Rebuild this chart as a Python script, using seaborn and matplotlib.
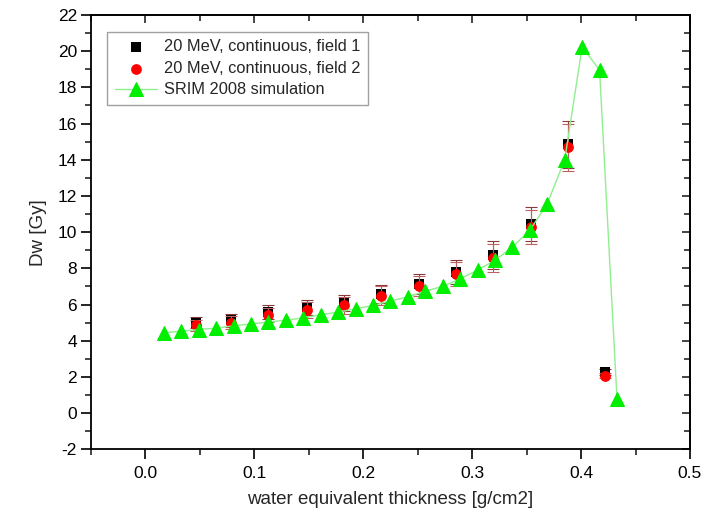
import matplotlib
matplotlib.use("Agg")
import matplotlib.pyplot as plt
import seaborn as sns
import pandas as pd
from matplotlib.ticker import MultipleLocator

# SRIM 2008 simulation
srim_x = [0.017, 0.033, 0.049, 0.065, 0.081, 0.097, 0.113, 0.129, 0.145, 0.161,
          0.177, 0.193, 0.209, 0.225, 0.241, 0.257, 0.273, 0.289, 0.305, 0.321,
          0.337, 0.353, 0.369, 0.385, 0.401, 0.417, 0.433]
srim_y = [4.45, 4.52, 4.62, 4.70, 4.82, 4.93, 5.03, 5.14, 5.26, 5.44,
          5.58, 5.77, 5.95, 6.20, 6.42, 6.74, 7.01, 7.42, 7.90, 8.45,
          9.18, 10.10, 11.58, 14.00, 20.25, 18.95, 0.78]

# measurements
meas_x = [0.046, 0.079, 0.113, 0.148, 0.182, 0.216, 0.251, 0.285, 0.319, 0.354, 0.388, 0.422]
field1_y = [5.00, 5.12, 5.58, 5.85, 6.10, 6.60, 7.15, 7.80, 8.72, 10.45, 14.85, 2.27]
field2_y = [4.85, 5.00, 5.42, 5.70, 5.95, 6.50, 7.02, 7.68, 8.58, 10.30, 14.70, 2.07]
err1 = [0.32, 0.35, 0.38, 0.42, 0.45, 0.50, 0.55, 0.68, 0.78, 0.95, 1.30, 0.15]
err2 = [0.32, 0.35, 0.38, 0.42, 0.45, 0.50, 0.55, 0.68, 0.78, 0.95, 1.30, 0.15]

x_ticks = [0.0, 0.1, 0.2, 0.3, 0.4, 0.5]
x_ticklabels = ["0.0", "0.1", "0.2", "0.3", "0.4", "0.5"]
y_ticks = list(range(-2, 23, 2))

sns.set_style("ticks")
plt.rcParams['font.family'] = ['Liberation Sans', 'DejaVu Sans']

fig = plt.figure(figsize=(7.13, 5.18), dpi=100)
ax = fig.add_axes([0.1276, 0.1326, 0.8401, 0.8384])

df1 = pd.DataFrame({"x": meas_x, "y": field1_y})
df2 = pd.DataFrame({"x": meas_x, "y": field2_y})
dfs = pd.DataFrame({"x": srim_x, "y": srim_y})

ax.errorbar(meas_x, field1_y, yerr=err1, fmt='none', ecolor='#8a3a3a',
            elinewidth=0.8, capsize=4, capthick=0.8, zorder=2)
sns.scatterplot(data=df1, x="x", y="y", marker='s', color='black', s=45,
                edgecolor='black', linewidth=0, ax=ax, zorder=3,
                label="20 MeV, continuous, field 1")
ax.errorbar(meas_x, field2_y, yerr=err2, fmt='none', ecolor='#c06060',
            elinewidth=0.8, capsize=4, capthick=0.8, zorder=3.5)
sns.scatterplot(data=df2, x="x", y="y", marker='o', color='#ff0000', s=60,
                edgecolor='#ff0000', linewidth=0, ax=ax, zorder=4,
                label="20 MeV, continuous, field 2")
sns.lineplot(data=dfs, x="x", y="y", color='#90ee90', linewidth=1.0,
             marker='^', markersize=10, markerfacecolor='#00ee00',
             markeredgecolor='#00ee00', ax=ax, zorder=5,
             label="SRIM 2008 simulation", sort=False)

ax.set_xlim(-0.05, 0.5)
ax.set_ylim(-2, 22)
ax.set_xticks(x_ticks)
ax.set_xticklabels(x_ticklabels)
ax.xaxis.set_minor_locator(MultipleLocator(0.05))
ax.set_yticks(y_ticks)
ax.set_yticklabels([str(v) for v in y_ticks])
ax.yaxis.set_minor_locator(MultipleLocator(1))

for s in ax.spines.values():
    s.set_visible(True)
    s.set_linewidth(1.3)
    s.set_color('black')

ax.tick_params(axis='both', which='major', direction='out', length=7, width=1.2,
               labelsize=12.5, colors='black')
ax.tick_params(axis='both', which='minor', direction='out', length=4, width=1.2)
ax.tick_params(axis='x', which='major', pad=5)
ax.tick_params(axis='y', which='major', pad=3)

# inward ticks on top/right
top = ax.secondary_xaxis('top')
top.set_xticks(x_ticks)
top.xaxis.set_minor_locator(MultipleLocator(0.05))
top.tick_params(which='major', direction='in', length=6, width=1.2, labeltop=False)
top.tick_params(which='minor', direction='in', length=4, width=1.2)
top.spines['top'].set_linewidth(1.3)
right = ax.secondary_yaxis('right')
right.set_yticks(y_ticks)
right.yaxis.set_minor_locator(MultipleLocator(1))
right.tick_params(which='major', direction='in', length=6, width=1.2, labelright=False)
right.tick_params(which='minor', direction='in', length=4, width=1.2)
right.spines['right'].set_linewidth(1.3)
ax.tick_params(axis='both', which='both', top=False, right=False)

ax.set_xlabel("water equivalent thickness [g/cm2]", fontsize=13.5, labelpad=7)
ax.set_ylabel("Dw [Gy]", fontsize=13.5, labelpad=8)

leg = ax.legend(loc='upper left', bbox_to_anchor=(0.027, 0.961), fontsize=11.8,
                frameon=True, fancybox=False, edgecolor='#888888',
                borderpad=0.45, labelspacing=0.4, handlelength=2.6,
                handletextpad=0.4, borderaxespad=0.0)
leg.get_frame().set_linewidth(1.0)

fig.savefig("out.png", dpi=100)
